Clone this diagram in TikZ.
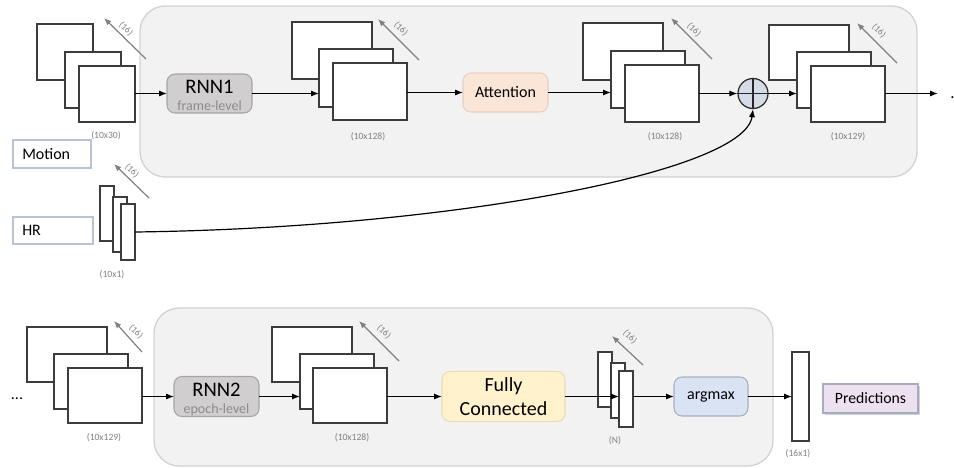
\documentclass[tikz,border=0pt]{standalone}
\usepackage{fontspec}
\setmainfont{Carlito}
\usetikzlibrary{arrows.meta,shadows}

\definecolor{panelfill}{HTML}{F2F2F2}
\definecolor{panelline}{HTML}{D3D3D3}
\definecolor{dimgray}{HTML}{808080}
\definecolor{layline}{HTML}{3C3C3C}
\definecolor{rnnfill}{HTML}{D0CECE}
\definecolor{rnnline}{HTML}{A6A6A6}
\definecolor{rnnsub}{HTML}{8C8C8C}
\definecolor{attfill}{HTML}{FBE5D6}
\definecolor{attline}{HTML}{E6D0C4}
\definecolor{fcfill}{HTML}{FFF2CC}
\definecolor{fcline}{HTML}{E8DDB8}
\definecolor{amfill}{HTML}{DAE3F3}
\definecolor{amline}{HTML}{A8B0BE}
\definecolor{sumfill}{HTML}{D6DCE5}
\definecolor{predfill}{HTML}{EDE1EF}
\definecolor{predline}{HTML}{A8ABC4}
\definecolor{inline}{HTML}{B8C3D8}

% one unit of the drawing grid
\newdimen\px
\px=0.75pt

\tikzset{
  panel/.style={draw=panelline,fill=panelfill,line width=1pt,rounded corners=19pt,
    inner sep=0,outer sep=0,anchor=north west},
  lay/.style={draw=layline,fill=white,line width=0.9pt,inner sep=0,outer sep=0,anchor=north west},
  blk/.style={rounded corners=6pt,line width=0.8pt,inner sep=0,outer sep=0},
  inbox/.style={draw=inline,fill=white,line width=0.8pt,inner sep=0,outer sep=0,anchor=north west},
  flow/.style={draw=black,line width=0.9pt,-{Latex[length=6pt,width=4.6pt]}},
  dimarr/.style={draw=dimgray,line width=0.9pt,-{Latex[length=5.5pt,width=4.4pt]}},
  dimlbl/.style={text=dimgray,font=\fontsize{7}{8}\selectfont,inner sep=0,rotate=-45},
  szlbl/.style={text=dimgray,font=\fontsize{7.2}{8}\selectfont,inner sep=0},
  mid/.style={font=\fontsize{12}{14}\selectfont,inner sep=0},
  bigw/.style={minimum width=80\px},
  smallw/.style={minimum width=74\px},
  thinw/.style={minimum width=14\px}
}

\begin{document}
\begin{tikzpicture}[x=0.75pt,y=-0.75pt]
\useasboundingbox (0,0) rectangle (954,468);

% ---------- frame-level part ----------
\node[panel,minimum width=777\px,minimum height=171\px] (toppanel) at (140,6) {};

% motion input stack
\node[lay,minimum width=56\px,minimum height=56\px] (a1) at (37,24) {};
\node[lay,minimum width=56\px,minimum height=56\px] (a2) at (65,52) {};
\node[lay,minimum width=56\px,minimum height=56\px] (a3) at (79,66) {};
\node[szlbl] (a-l) at (106,136) {(10x30)};
\draw[dimarr] (146,59) -- (104,18);
\node[dimlbl] (a-d) at (126,29) {(16)};

% input labels
\node[inbox,minimum width=78\px,minimum height=28\px] (motion) at (13,140) {};
\node[mid,anchor=west,xshift=9\px] (motiont) at (motion.west) {Motion};
\node[inbox,minimum width=80\px,minimum height=27\px] (hr) at (13,217) {};
\node[mid,anchor=west,xshift=9\px] (hrt) at (hr.west) {HR};

% heart-rate stack
\node[lay,thinw,minimum height=55\px] (h1) at (100,186) {};
\node[lay,thinw,minimum height=55\px] (h2) at (113,197) {};
\node[lay,thinw,minimum height=56\px] (h3) at (121,204) {};
\node[szlbl] (h-l) at (112,275) {(10x1)};
\draw[dimarr] (149,198) -- (114,164);
\node[dimlbl] (h-d) at (132,171) {(16)};

% RNN1
\node[blk,draw=rnnline,fill=rnnfill,minimum width=85\px,minimum height=39\px] (rnn1) at (209.5,93.5) {};
\node[inner sep=0,font=\fontsize{15.5}{17}\selectfont,anchor=base] (rnn1t) at (209.5,93) {RNN1};
\node[inner sep=0,font=\fontsize{10.5}{11}\selectfont,text=rnnsub,anchor=base] (rnn1s) at (209.5,110.5) {frame-level};

% RNN1 output stack
\node[lay,bigw,minimum height=57\px] (b1) at (292,22) {};
\node[lay,smallw,minimum height=58\px] (b2) at (319,49) {};
\node[lay,smallw,minimum height=57\px] (b3) at (333,63) {};
\node[szlbl] (b-l) at (368,137) {(10x128)};
\draw[dimarr] (419,60) -- (378,19);
\node[dimlbl] (b-d) at (401,29) {(16)};

% attention
\node[blk,draw=attline,fill=attfill,minimum width=85\px,minimum height=39\px,mid] (att) at (505.5,92.5) {Attention};

% attention output stack
\node[lay,bigw,minimum height=57\px] (c1) at (583,23) {};
\node[lay,smallw,minimum height=57\px] (c2) at (611,51) {};
\node[lay,smallw,minimum height=57\px] (c3) at (625,65) {};
\node[szlbl] (c-l) at (665,137) {(10x128)};
\draw[dimarr] (712,59) -- (671,18);
\node[dimlbl] (c-d) at (694,30) {(16)};

% concatenation
\node[circle,draw=black!85,fill=sumfill,line width=0.9pt,minimum size=30\px,inner sep=0] (sum) at (753,93.5) {};
\draw[black!85,line width=0.9pt] (sum.north) -- (sum.south) (sum.west) -- (sum.east);

% concatenated stack
\node[lay,bigw,minimum height=55\px] (d1) at (769,25) {};
\node[lay,smallw,minimum height=56\px] (d2) at (797,52) {};
\node[lay,smallw,minimum height=56\px] (d3) at (811,66) {};
\node[szlbl] (d-l) at (848,137) {(10x129)};
\draw[dimarr] (897,63) -- (857,23);
\node[dimlbl] (d-d) at (879,31) {(16)};

\coordinate (cont) at (938,93.5);
\node[inner sep=0,font=\fontsize{12.8}{14}\selectfont,anchor=base west] (dots1) at (950,98) {.};

% top flow
\draw[flow] (a3.east |- rnn1.west) -- (rnn1.west);
\draw[flow] (rnn1.east) -- (rnn1.east -| b2.west);
\draw[flow] (b3.east |- att.west) -- (att.west);
\draw[flow] (att.east) -- (att.east -| c2.west);
\draw[flow] (c3.east |- sum.west) -- (sum.west);
\draw[flow] (sum.east) -- (sum.east -| d2.west);
\draw[flow] (d3.east |- cont) -- (cont);
\draw[flow] (h3.east) .. controls (450,228) and (745,172) .. (sum.south);

% ---------- epoch-level part ----------
\node[panel,minimum width=619\px,minimum height=158\px] (botpanel) at (154,308) {};

\node[mid,anchor=base] (dots0) at (17,399) {...};

% epoch input stack
\node[lay,bigw,minimum height=55\px] (e1) at (27,327) {};
\node[lay,smallw,minimum height=55\px] (e2) at (54,354) {};
\node[lay,smallw,minimum height=55\px] (e3) at (68,368) {};
\node[szlbl] (e-l) at (104,438) {(10x129)};
\draw[dimarr] (142,352) -- (114,321);
\node[dimlbl] (e-d) at (136,332) {(16)};

% RNN2
\node[blk,draw=rnnline,fill=rnnfill,minimum width=85\px,minimum height=40\px] (rnn2) at (216.5,396.5) {};
\node[inner sep=0,font=\fontsize{15.5}{17}\selectfont,anchor=base] (rnn2t) at (216.5,396) {RNN2};
\node[inner sep=0,font=\fontsize{10.5}{11}\selectfont,text=rnnsub,anchor=base] (rnn2s) at (216.5,413.5) {epoch-level};

% RNN2 output stack
\node[lay,bigw,minimum height=55\px] (f1) at (272,327) {};
\node[lay,smallw,minimum height=55\px] (f2) at (300,354) {};
\node[lay,smallw,minimum height=55\px] (f3) at (313,368) {};
\node[szlbl] (f-l) at (352,438) {(10x128)};
\draw[dimarr] (399,361) -- (359,321);
\node[dimlbl] (f-d) at (384,332) {(16)};

% fully connected
\node[blk,draw=fcline,fill=fcfill,minimum width=123\px,minimum height=50\px,align=center,
  font=\fontsize{15}{17.5}\selectfont] (fc) at (503.5,396.5) {Fully\\Connected};

% FC output
\node[lay,thinw,minimum height=55\px] (n1) at (598,352) {};
\node[lay,thinw,minimum height=55\px] (n2) at (611,363) {};
\node[lay,thinw,minimum height=56\px] (n3) at (619,371) {};
\node[szlbl] (n-l) at (615,441) {(N)};
\draw[dimarr] (643,365) -- (612,336);
\node[dimlbl] (n-d) at (630,337) {(16)};

% argmax
\node[blk,draw=amline,fill=amfill,minimum width=74\px,minimum height=39\px,mid] (argmax) at (711,396.5) {argmax};

% prediction vector
\node[lay,minimum width=17\px,minimum height=89\px] (o1) at (792,352) {};
\node[szlbl] (o-l) at (798,454) {(16x1)};

\node[draw=predline,fill=predfill,line width=0.8pt,minimum width=95\px,minimum height=29\px,
  font=\fontsize{11.8}{14}\selectfont,inner sep=0,
  drop shadow={shadow xshift=1.5pt,shadow yshift=-1.5pt,fill=black!35}] (pred) at (870.5,398.5) {Predictions};

% bottom flow
\draw[flow] (e3.east |- rnn2.west) -- (rnn2.west);
\draw[flow] (rnn2.east) -- (rnn2.east -| f2.west);
\draw[flow] (f3.east |- fc.west) -- (fc.west);
\draw[flow] (fc.east) -- (fc.east -| n3.west);
\draw[flow] (n3.east |- argmax.west) -- (argmax.west);
\draw[flow] (argmax.east) -- (argmax.east -| o1.west);
\end{tikzpicture}
\end{document}
